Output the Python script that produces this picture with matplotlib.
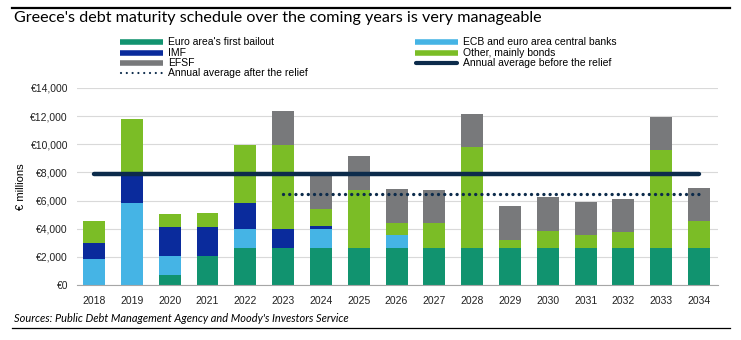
import numpy as np
import matplotlib.pyplot as plt
from matplotlib.lines import Line2D

plt.rcParams['font.family'] = ['Liberation Sans', 'DejaVu Sans']
humanist = ['Lato', 'DejaVu Sans']

years = ['2018', '2019', '2020', '2021', '2022', '2023', '2024', '2025', '2026',
         '2027', '2028', '2029', '2030', '2031', '2032', '2033', '2034']

# € millions
bailout = [0, 0, 710, 2090, 2660, 2660, 2660, 2660, 2660, 2660, 2660, 2660, 2660, 2660, 2660, 2660, 2660]
ecb     = [1850, 5810, 1380, 0, 1300, 0, 1300, 0, 900, 0, 0, 0, 0, 0, 0, 0, 0]
imf     = [1160, 2150, 2060, 2060, 1900, 1350, 260, 0, 0, 0, 0, 0, 0, 0, 0, 0, 0]
other   = [1570, 3830, 900, 1000, 4060, 5960, 1190, 4100, 830, 1730, 7120, 540, 1180, 880, 1090, 6950, 1900]
efsf    = [0, 0, 0, 0, 0, 2370, 2370, 2380, 2440, 2370, 2350, 2380, 2380, 2370, 2350, 2350, 2350]

avg_before = 7900
avg_after = 6500
after_from = '2023'

series = [
    ("Euro area's first bailout", bailout, '#11936f'),
    ('ECB and euro area central banks', ecb, '#45b4e5'),
    ('IMF', imf, '#0a2b9c'),
    ('Other, mainly bonds', other, '#7bbd26'),
    ('EFSF', efsf, '#78797b'),
]
navy = '#0c2b4b'

fig = plt.figure(figsize=(7.41, 3.40), dpi=100)
ax = fig.add_axes([77/741, 1 - 285/340, (718 - 77)/741, (285 - 88)/340])

x = np.arange(len(years))
bottom = np.zeros(len(years))
for name, vals, col in series:
    ax.bar(x, vals, 0.58, bottom=bottom, color=col, zorder=2)
    bottom += np.array(vals)

ax.hlines(avg_before, 0, len(years) - 1, color=navy, lw=3.2, zorder=3,
          capstyle='round')
ax.plot([years.index(after_from), len(years) - 1], [avg_after, avg_after],
        color=navy, lw=2.4, linestyle=(0, (0.01, 1.85)), dash_capstyle='round',
        zorder=3)

ax.set_xlim(-0.45, len(years) - 0.5)
ax.set_ylim(0, 14000)
ax.set_yticks(range(0, 14001, 2000))
ax.set_yticklabels(['€{:,}'.format(v) for v in range(0, 14001, 2000)])
ax.set_xticks(x)
ax.set_xticklabels(years)
ax.tick_params(axis='both', length=0, labelsize=7.5, colors='#222222')
ax.tick_params(axis='y', pad=6.5)
ax.tick_params(axis='x', pad=8)
ax.grid(axis='y', color='#d9d9d9', lw=0.8, zorder=0)
for s in ['top', 'right', 'left']:
    ax.spines[s].set_visible(False)
ax.spines['bottom'].set_color('#a6a6a6')
ax.set_ylabel('€ millions', fontsize=8, labelpad=3)

# title, source and rules
fig.text(14/741, 1 - 18/340, "Greece's debt maturity schedule over the coming years is very manageable",
         fontsize=11.6, family=humanist, va='center', ha='left')
fig.text(14/741, 1 - 318/340, "Sources: Public Debt Management Agency and Moody's Investors Service",
         fontsize=7.9, family=humanist, style='italic', va='center', ha='left')
fig.add_artist(Line2D([12/741, 730/741], [1 - 8/340] * 2, color='black', lw=1.6))
fig.add_artist(Line2D([12/741, 730/741], [1 - 328/340] * 2, color='black', lw=0.9))

# legend
rows = [42.3, 52.7, 63.3, 73.3]
left_col = [(series[0][0], series[0][2], 'bar'), (series[2][0], series[2][2], 'bar'),
            (series[4][0], series[4][2], 'bar'), ('Annual average after the relief', navy, 'dot')]
right_col = [(series[1][0], series[1][2], 'bar'), (series[3][0], series[3][2], 'bar'),
             ('Annual average before the relief', navy, 'line')]
for x0, col_items in [(120, left_col), (415, right_col)]:
    for yy, (lab, c, kind) in zip(rows, col_items):
        fy = 1 - yy/340
        if kind == 'bar':
            fig.add_artist(Line2D([x0/741, (x0 + 43)/741], [fy, fy], color=c, lw=4, solid_capstyle='butt'))
        elif kind == 'line':
            fig.add_artist(Line2D([(x0 + 1)/741, (x0 + 42)/741], [fy, fy], color=c, lw=3, solid_capstyle='round'))
        else:
            fig.add_artist(Line2D([(x0 + 1)/741, (x0 + 42)/741], [fy, fy], color=c, lw=1.6,
                                  linestyle=(0, (0.01, 2.6)), dash_capstyle='round'))
        fig.text((x0 + 48)/741, fy, lab, fontsize=7.5, va='center', ha='left')

fig.savefig('out.png', dpi=100)
